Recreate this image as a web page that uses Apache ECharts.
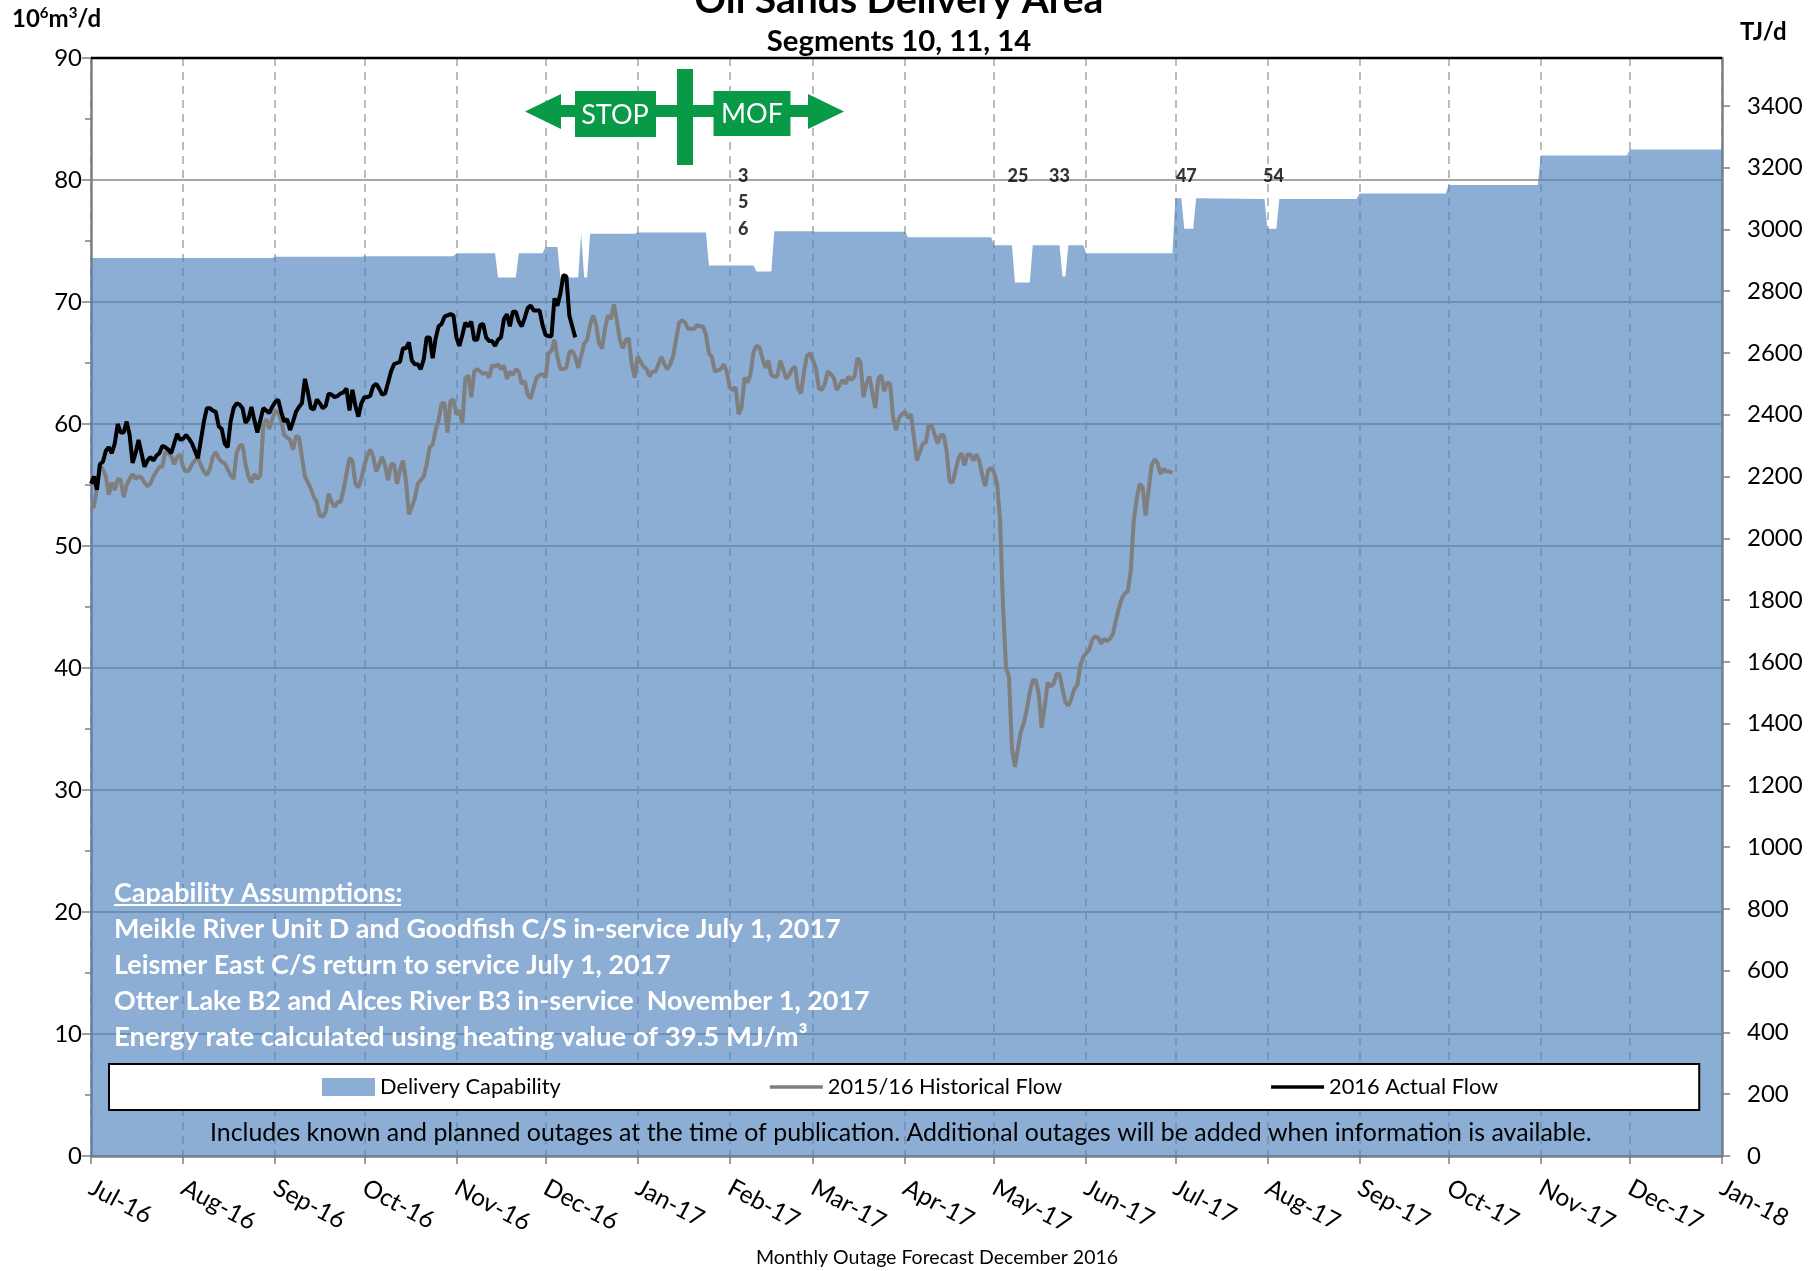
<!DOCTYPE html>
<html>
<head>
<meta charset="utf-8">
<title>Oil Sands Delivery Area</title>
<script src="https://cdn.jsdelivr.net/npm/echarts@6/dist/echarts.min.js"></script>
<style>
  html, body { margin: 0; padding: 0; background: #fff; }
  #chart { width: 1820px; height: 1271px; }
</style>
</head>
<body>
<div id="chart"></div>
<script>
var monthLabels = ["Jul-16", "Aug-16", "Sep-16", "Oct-16", "Nov-16", "Dec-16", "Jan-17", "Feb-17", "Mar-17", "Apr-17",
  "May-17", "Jun-17", "Jul-17", "Aug-17", "Sep-17", "Oct-17", "Nov-17", "Dec-17", "Jan-18"];
// first day of each month, counted in days from Jul 1 2016
var monthDays = [0, 31, 62, 92, 123, 153, 184, 215, 243, 274, 304, 335, 365, 396, 427, 457, 488, 518, 549];
var leftTicks = [0, 10, 20, 30, 40, 50, 60, 70, 80, 90];
var rightTicks = [0, 200, 400, 600, 800, 1000, 1200, 1400, 1600, 1800, 2000, 2200, 2400, 2600, 2800, 3000, 3200, 3400];

// delivery capability
var capDays = [0, 61, 62, 91, 92, 122, 123, 136, 137, 143, 144, 152, 153, 157, 158, 164, 165, 166, 167, 168, 183, 184,
  207, 208, 223, 224, 229, 230, 243, 244, 274, 275, 303, 304, 310, 311, 316, 317, 326, 327, 328, 329, 334, 335, 364,
  365, 367, 368, 371, 372, 395, 396, 399, 400, 426, 427, 456, 457, 487, 488, 517, 518, 549];
var capValues = [73.6, 73.6, 73.7, 73.7, 73.75, 73.75, 74, 74, 72, 72, 74, 74, 74.5, 74.5, 72, 72, 75.6, 72, 72, 75.6, 75.6, 75.7,
  75.7, 73, 73, 72.5, 72.5, 75.8, 75.8, 75.75, 75.75, 75.3, 75.3, 74.65, 74.65, 71.6, 71.6, 74.65, 74.65, 72.1, 72.1, 74.65, 74.65, 74, 74,
  78.5, 78.5, 76, 76, 78.5, 78.45, 76, 76, 78.45, 78.45, 78.9, 78.9, 79.6, 79.6, 82, 82, 82.5, 82.5];

// daily flows starting Jul 1 2016
var historicalFlow = [53.2, 53.2, 54.8, 56.6, 56.3, 55.7, 54.2, 55.2, 54.6, 55.5, 55.4, 54.0, 55.0, 55.5, 55.9, 55.5, 55.7, 55.6, 55.2, 54.9,
  55.1, 55.7, 56.1, 56.5, 56.5, 57.7, 57.6, 57.4, 56.7, 57.3, 57.5, 56.5, 56.1, 56.2, 56.7, 57.0, 57.3, 56.6, 56.1, 55.8,
  56.3, 57.3, 57.7, 57.2, 56.9, 56.8, 56.3, 55.8, 55.5, 57.6, 58.2, 58.3, 56.7, 55.7, 55.2, 55.9, 55.5, 55.8, 59.8, 60.4,
  59.6, 60.4, 61.0, 61.0, 60.3, 59.1, 58.9, 58.7, 57.9, 59.0, 58.9, 57.3, 55.7, 55.2, 54.7, 54.0, 53.6, 52.5, 52.4, 52.8,
  54.3, 53.6, 53.2, 53.6, 53.6, 54.6, 55.9, 57.2, 57.0, 55.1, 54.8, 55.5, 56.6, 57.4, 57.9, 57.3, 56.1, 56.7, 57.3, 56.6,
  55.4, 56.7, 56.7, 55.1, 56.2, 57.0, 55.4, 52.6, 53.2, 53.9, 55.1, 55.4, 55.7, 56.7, 58.1, 58.3, 59.5, 60.3, 61.7, 61.7,
  59.3, 61.9, 62.0, 60.8, 61.1, 60.1, 63.7, 64.0, 62.2, 64.3, 64.5, 64.3, 64.1, 64.2, 63.8, 64.8, 64.7, 64.9, 64.5, 64.8,
  63.7, 64.3, 64.0, 64.5, 64.3, 63.3, 63.5, 62.4, 62.1, 63.0, 63.8, 64.0, 64.1, 63.8, 65.8, 66.0, 66.9, 65.5, 64.5, 64.5,
  64.6, 65.9, 66.0, 65.5, 64.6, 65.6, 66.6, 66.9, 68.1, 68.9, 68.2, 66.6, 66.2, 67.8, 68.9, 68.6, 69.8, 68.5, 66.9, 66.2,
  66.9, 67.0, 64.9, 63.8, 65.5, 65.1, 64.7, 64.5, 63.9, 64.3, 64.3, 64.9, 65.5, 64.9, 64.5, 64.9, 65.6, 67.0, 68.3, 68.5,
  68.3, 67.8, 67.8, 67.8, 68.1, 68.0, 68.0, 67.3, 65.8, 65.5, 64.3, 64.4, 64.5, 64.9, 64.3, 63.0, 62.8, 63.0, 60.8, 61.4,
  63.8, 63.4, 64.1, 65.9, 66.4, 66.3, 65.4, 64.6, 65.2, 64.0, 63.9, 63.9, 65.2, 64.5, 63.7, 64.0, 64.5, 64.7, 62.9, 62.5,
  64.3, 65.6, 65.8, 65.2, 64.6, 62.9, 62.8, 63.3, 64.3, 64.1, 63.8, 62.8, 63.2, 63.6, 63.3, 63.9, 63.6, 63.9, 65.4, 65.1,
  62.2, 63.3, 63.9, 62.6, 61.3, 63.7, 64.0, 62.7, 63.4, 63.3, 60.5, 59.5, 60.5, 60.8, 61.0, 60.5, 60.8, 58.9, 57.0, 57.7,
  58.4, 58.5, 59.9, 59.9, 59.1, 58.4, 59.1, 59.1, 57.8, 55.3, 55.2, 56.2, 57.2, 57.6, 56.6, 57.5, 57.5, 57.0, 57.5, 57.0,
  55.8, 54.9, 56.2, 56.4, 56.0, 55.1, 52.1, 45.0, 40.0, 39.3, 33.4, 31.9, 33.4, 34.8, 35.5, 36.6, 38.0, 39.0, 39.0, 37.9,
  35.1, 36.8, 38.8, 38.5, 38.7, 39.5, 39.5, 38.3, 37.2, 36.9, 37.5, 38.3, 38.6, 40.2, 40.9, 41.2, 41.5, 42.3, 42.6, 42.5,
  42.0, 42.4, 42.2, 42.4, 42.8, 43.9, 44.9, 45.7, 46.1, 46.3, 48.0, 52.1, 53.9, 55.1, 54.8, 52.5, 54.6, 56.6, 57.1, 56.8,
  55.9, 56.3, 56.1, 56.1, 56.0];
var actualFlow = [55.1, 55.7, 54.6, 56.7, 56.9, 57.8, 58.1, 57.6, 58.4, 60.0, 59.3, 59.3, 60.2, 59.1, 56.8, 57.6, 58.7, 57.6, 56.5, 57.0,
  57.3, 57.0, 57.4, 57.6, 58.2, 58.1, 57.9, 57.6, 58.4, 59.2, 58.7, 58.8, 59.1, 58.8, 58.4, 57.8, 57.2, 58.7, 60.2, 61.3,
  61.3, 61.1, 61.0, 59.8, 59.6, 58.4, 58.1, 60.2, 61.3, 61.7, 61.6, 61.3, 60.1, 60.4, 61.4, 60.3, 59.3, 60.3, 61.3, 61.1,
  60.9, 61.4, 61.8, 62.0, 61.0, 60.2, 60.4, 59.5, 60.2, 61.0, 61.4, 61.7, 63.7, 62.6, 61.3, 61.2, 62.0, 61.7, 61.3, 61.5,
  62.5, 62.4, 62.2, 62.3, 62.5, 62.6, 62.9, 61.1, 62.8, 61.5, 60.6, 61.7, 62.2, 62.2, 62.3, 63.1, 63.3, 62.9, 62.4, 62.5,
  63.4, 64.3, 64.9, 65.0, 65.1, 66.2, 66.2, 66.7, 65.2, 64.9, 64.9, 64.5, 65.3, 67.1, 67.1, 65.4, 67.0, 68.0, 68.2, 68.8,
  68.9, 69.0, 68.9, 67.1, 66.4, 67.3, 68.3, 68.0, 68.4, 66.9, 66.9, 68.1, 68.2, 67.1, 66.8, 66.8, 66.4, 66.9, 67.1, 68.6,
  69.0, 68.0, 69.2, 69.2, 68.4, 68.0, 68.7, 69.5, 69.7, 69.3, 69.3, 69.3, 68.1, 67.3, 67.2, 67.2, 70.3, 69.7, 70.7, 72.2,
  72.1, 68.9, 68.0, 67.1];

// outage numbers printed above the capability area
var outageText = ["3", "5", "6", "25", "33", "47", "54"];
var outageDays = [219.5, 219.5, 219.5, 312, 326, 368.7, 398];
var outageLevels = [80.3, 78.2, 76.0, 80.3, 80.3, 80.3, 80.3];

var capabilityNotes = ["Capability Assumptions:", "Meikle River Unit D and Goodfish C/S in-service July 1, 2017",
  "Leismer East C/S return to service July 1, 2017", "Otter Lake B2 and Alces River B3 in-service  November 1, 2017",
  "Energy rate calculated using heating value of 39.5 MJ/m³"];

var FONT = "Lato, 'Open Sans', sans-serif";
var GREEN = "#089a46";
// thin bar for the line entries of the legend, the degenerate moves keep the full icon height
var LINE_ICON = "path://M0,0L0,0M0,40H100V60H0ZM0,100L0,100";

function text(str, x, y, size, opts) {
  opts = opts || {};
  return {
    type: "text", x: x, y: y, z: opts.z || 5,
    style: {
      text: str,
      fill: opts.fill || "#000",
      font: (opts.bold ? "bold " : "") + size + "px " + FONT,
      textAlign: opts.align || "left",
      textVerticalAlign: "middle"
    }
  };
}
function box(x, y, w, h) {
  return { type: "rect", z: 4, shape: { x: x, y: y, width: w, height: h }, style: { fill: GREEN } };
}
function arrow(points) {
  return { type: "polygon", z: 4, shape: { points: points }, style: { fill: GREEN } };
}

var graphics = [
  text("Oil Sands Delivery Area", 899, 0, 39, { bold: true, align: "center" }),
  text("Segments 10, 11, 14", 899, 42, 29.3, { bold: true, align: "center" }),
  {
    // left axis unit with real superscripts
    type: "text", x: 12, y: 19, z: 5,
    style: {
      text: "{b|10}{s|6}{b|m}{s|3}{b|/d}",
      textVerticalAlign: "middle",
      rich: {
        b: { fontFamily: FONT, fontWeight: "bold", fontSize: 24, fill: "#000", lineHeight: 26 },
        s: { fontFamily: FONT, fontWeight: "bold", fontSize: 15, fill: "#000", lineHeight: 26, verticalAlign: "top" }
      }
    }
  },
  text("TJ/d", 1740, 32, 24, { bold: true }),
  // top border of the plot
  { type: "line", z: 3, shape: { x1: 91, y1: 58, x2: 1722, y2: 58 }, style: { stroke: "#000", lineWidth: 2.5 } },
  // STOP | MOF sign
  box(561, 105, 247, 12),
  box(677, 69, 16, 96),
  box(575, 91, 81, 46),
  box(713.5, 91, 77, 45),
  arrow([[525, 111.5], [561, 94], [561, 129]]),
  arrow([[844, 111.5], [808, 94], [808, 129]]),
  text("STOP", 615, 115, 27, { fill: "#fff", align: "center" }),
  text("MOF", 752, 114, 27, { fill: "#fff", align: "center" }),
  // notes
  { type: "line", z: 5, shape: { x1: 114, y1: 905, x2: 401, y2: 905 }, style: { stroke: "#fff", lineWidth: 2 } },
  text("Includes known and planned outages at the time of publication. Additional outages will be added when information is available.", 210, 1133, 24.9),
  text("Monthly Outage Forecast December 2016", 756, 1258, 19.5)
];
var noteY = [893, 929, 965, 1001, 1037];
var noteSize = [26.9, 26.9, 26.9, 26.9, 27.5];
capabilityNotes.forEach(function(n, i) {
  graphics.push(text(n, 114, noteY[i], noteSize[i], { bold: true, fill: "#fff" }));
});

var chart = echarts.init(document.getElementById("chart"));
chart.setOption({
  animation: false,
  textStyle: { fontFamily: FONT },
  grid: { left: 91, top: 58, width: 1631, height: 1098 },
  legend: {
    left: 109, top: 1064,
    padding: [12, 201, 12, 213],
    backgroundColor: "#fff",
    borderColor: "#000",
    borderWidth: 2,
    itemGap: 209,
    itemWidth: 53,
    itemHeight: 18,
    symbolKeepAspect: false,
    textStyle: { fontSize: 21.8, color: "#000" },
    data: [
      { name: "Delivery Capability", icon: "rect" },
      { name: "2015/16 Historical Flow", icon: LINE_ICON },
      { name: "2016 Actual Flow", icon: LINE_ICON }
    ]
  },
  xAxis: {
    type: "value",
    min: 0,
    max: 549,
    axisLine: { onZero: false, lineStyle: { color: "#7f7f7f", width: 2.5 } },
    axisTick: { show: true, customValues: monthDays, length: 8, lineStyle: { color: "#7f7f7f", width: 1.5 } },
    axisLabel: {
      customValues: monthDays,
      rotate: -28,
      margin: 30,
      fontSize: 24.5,
      color: "#000",
      formatter: function(value) {
        return monthLabels[monthDays.indexOf(value)];
      }
    },
    splitLine: { show: true, lineStyle: { color: "#a6a6a6", width: 1.5, type: [8, 6] } }
  },
  yAxis: [
    {
      type: "value", min: 0, max: 90, interval: 10,
      axisLine: { show: true, lineStyle: { color: "#7f7f7f", width: 2.5 } },
      axisTick: { show: true, length: 9, lineStyle: { color: "#7f7f7f", width: 1.5 } },
      minorTick: { show: true, splitNumber: 2, length: 6, lineStyle: { color: "#7f7f7f", width: 1.5 } },
      axisLabel: { margin: 9, fontSize: 24, color: "#000", customValues: leftTicks },
      splitLine: { show: true, lineStyle: { color: "#a6a6a6", width: 2 } }
    },
    {
      type: "value", min: 0, max: 3555, position: "right",
      axisLine: { show: true, lineStyle: { color: "#7f7f7f", width: 2.5 } },
      axisTick: { show: true, customValues: rightTicks, length: 8, lineStyle: { color: "#7f7f7f", width: 1.5 } },
      axisLabel: {
        customValues: rightTicks, margin: 25, fontSize: 24, color: "#000",
        formatter: function(value) { return String(value); }
      },
      splitLine: { show: false }
    }
  ],
  graphic: graphics,
  series: [
    {
      name: "Delivery Capability",
      type: "line",
      symbol: "none",
      color: "rgba(79,129,189,0.65)",
      lineStyle: { width: 0 },
      areaStyle: { color: "rgba(79,129,189,0.65)", opacity: 1 },
      data: capDays.map(function(d, i) { return [d, capValues[i]]; })
    },
    {
      name: "2015/16 Historical Flow",
      type: "line",
      symbol: "none",
      color: "#7f7f7f",
      lineStyle: { color: "#7f7f7f", width: 4 },
      data: historicalFlow.map(function(v, d) { return [d, v]; })
    },
    {
      name: "2016 Actual Flow",
      type: "line",
      symbol: "none",
      color: "#000",
      lineStyle: { color: "#000", width: 4 },
      data: actualFlow.map(function(v, d) { return [d, v]; })
    },
    {
      // outage numbers, no marker
      type: "scatter",
      symbolSize: 0,
      silent: true,
      label: {
        show: true, position: "inside", fontFamily: FONT, fontSize: 18, fontWeight: 900, color: "#000",
        formatter: function(p) { return outageText[p.dataIndex]; }
      },
      data: outageDays.map(function(d, i) { return [d, outageLevels[i]]; })
    }
  ]
});
window.addEventListener("resize", chart.resize);
</script>
</body>
</html>
